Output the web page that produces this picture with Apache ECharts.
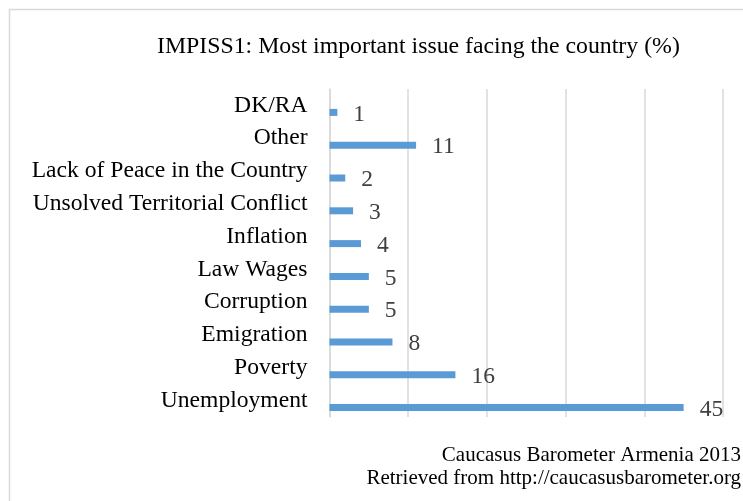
<!DOCTYPE html>
<html>
<head>
<meta charset="utf-8">
<script src="https://cdn.jsdelivr.net/npm/echarts@6/dist/echarts.min.js"></script>
<style>
html, body { margin: 0; padding: 0; background: #fff; }
#chart { width: 743px; height: 501px; }
</style>
</head>
<body>
<div id="chart"></div>
<script>
// data, bottom to top
var categories = ['Unemployment', 'Poverty', 'Emigration', 'Corruption', 'Law Wages',
    'Inflation', 'Unsolved Territorial Conflict', 'Lack of Peace in the Country', 'Other', 'DK/RA'];
var values = [45, 16, 8, 5, 5, 4, 3, 2, 11, 1];
var spacer = categories.map(function () { return 0; }); // empty series, pushes the real bars down in each band

var serif = '"Liberation Serif", "Times New Roman", serif';
var myChart = echarts.init(document.getElementById('chart'));

myChart.setOption({
    animation: false,
    title: {
        text: 'IMPISS1: Most important issue facing the country (%)',
        left: 152,
        top: 30,
        textStyle: { fontFamily: serif, fontSize: 23.8, fontWeight: 'normal', color: '#000' }
    },
    graphic: [
        { type: 'rect', left: 7, top: 7, shape: { width: 760, height: 520 },
          style: { fill: 'none', stroke: '#d9d9d9', lineWidth: 1.5 }, silent: true },
        { type: 'text', right: 2, top: 445,
          style: { text: 'Caucasus Barometer Armenia 2013', font: '21px ' + serif, fill: '#000', textAlign: 'right' } },
        { type: 'text', right: 2, top: 468,
          style: { text: 'Retrieved from http://caucasusbarometer.org', font: '21px ' + serif, fill: '#000', textAlign: 'right' } }
    ],
    grid: { left: 329.5, right: 20, top: 89, bottom: 84, containLabel: false },
    xAxis: {
        type: 'value',
        min: 0, max: 50, interval: 10,
        axisLabel: { show: false },
        axisLine: { show: false },
        axisTick: { show: false },
        splitLine: { lineStyle: { color: '#d9d9d9', width: 1.5 } }
    },
    yAxis: {
        type: 'category',
        data: categories,
        axisLine: { lineStyle: { color: '#d9d9d9', width: 1.5 } },
        axisTick: { length: 6, lineStyle: { color: '#d9d9d9', width: 1.5 } },
        axisLabel: { fontFamily: serif, fontSize: 23.6, color: '#000', margin: 22 }
    },
    series: [
        { type: 'bar', data: spacer, barWidth: 7, barGap: '100%', itemStyle: { color: 'transparent' }, silent: true },
        {
            type: 'bar', data: values, barWidth: 7, barGap: '100%',
            itemStyle: { color: '#5b9bd5' },
            label: {
                show: true, position: 'right', distance: 16, offset: [0, 2],
                fontFamily: serif, fontSize: 23.5, color: '#404040'
            }
        }
    ]
});
</script>
</body>
</html>
